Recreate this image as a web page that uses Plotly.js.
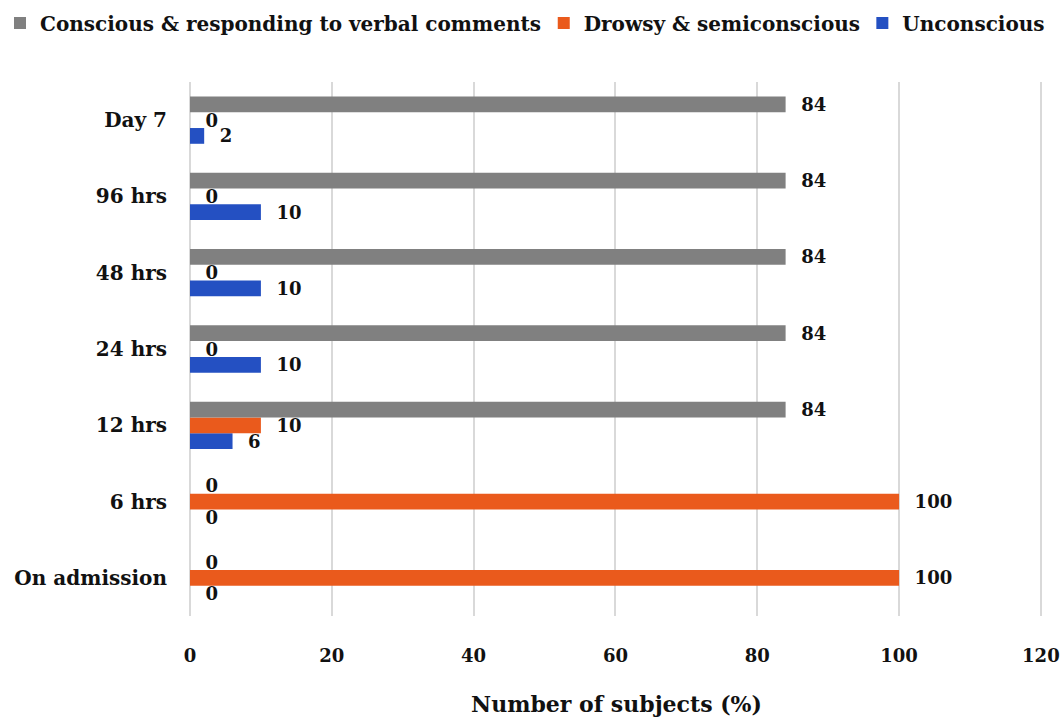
<!DOCTYPE html>
<html><head><meta charset="utf-8">
<script src="https://cdn.plot.ly/plotly-3.0.1.min.js"></script>
<style>body{margin:0;background:#fff}#c{width:1062px;height:719px}</style>
</head><body><div id="c"></div>
<script>
const categories = ["On admission", "6 hrs", "12 hrs", "24 hrs", "48 hrs", "96 hrs", "Day 7"];
const conscious = [0, 0, 84, 84, 84, 84, 84];
const drowsy = [100, 100, 10, 0, 0, 0, 0];
const unconscious = [0, 0, 6, 10, 10, 10, 2];
const xTicks = [0, 20, 40, 60, 80, 100, 120];

const FONT = "DejaVu Serif";
const tfont = {family: FONT, size: 18, color: "#111", weight: "bold"};
function tr(name, vals, color, leg) {
  return {type: "bar", orientation: "h", name: name, y: categories, x: vals, legend: leg,
    marker: {color: color}, text: vals.map(String), textposition: "outside", constraintext: "none",
    texttemplate: "  %{x}", textfont: tfont, cliponaxis: false, hoverinfo: "x"};
}
const data = [
  tr("Unconscious", unconscious, "#2450C2", "legend3"),
  tr("Drowsy & semiconscious", drowsy, "#EA5A1C", "legend2"),
  tr("Conscious & responding to verbal comments", conscious, "#808080", "legend")
];
const lfont = {family: FONT, size: 20, weight: "bold", color: "#111"};
function leg(x) {
  return {orientation: "h", x: x, xanchor: "left", xref: "container", y: 0.995, yanchor: "top", yref: "container",
    itemwidth: 30, font: lfont, bgcolor: "rgba(0,0,0,0)"};
}
const layout = {
  width: 1062, height: 719,
  margin: {l: 190, r: 19, t: 82, b: 103, autoexpand: false},
  paper_bgcolor: "#fff", plot_bgcolor: "#fff",
  barmode: "group", bargap: 0.38, bargroupgap: 0,
  font: {family: FONT, color: "#111"},
  showlegend: true,
  legend: leg(0.0), legend2: leg(0.512), legend3: leg(0.812),
  xaxis: {range: [0, 120.3], tickvals: xTicks, ticktext: xTicks.map(String),
    showgrid: true, gridcolor: "#d9d9d9", gridwidth: 2, zeroline: true, zerolinecolor: "#d9d9d9", zerolinewidth: 2,
    showline: false, ticks: "", ticklabelstandoff: 27,
    tickfont: {family: FONT, size: 18, weight: "bold", color: "#111"},
    title: {text: "Number of subjects (%)", standoff: 31, font: {family: FONT, size: 22, weight: "bold", color: "#111"}}},
  yaxis: {type: "category", categoryorder: "array", categoryarray: categories, showgrid: false, zeroline: false,
    ticks: "", ticklabelstandoff: 22,
    tickfont: {family: FONT, size: 20, weight: "bold", color: "#111"}}
};
Plotly.newPlot("c", data, layout, {displayModeBar: false, staticPlot: true});
</script></body></html>
